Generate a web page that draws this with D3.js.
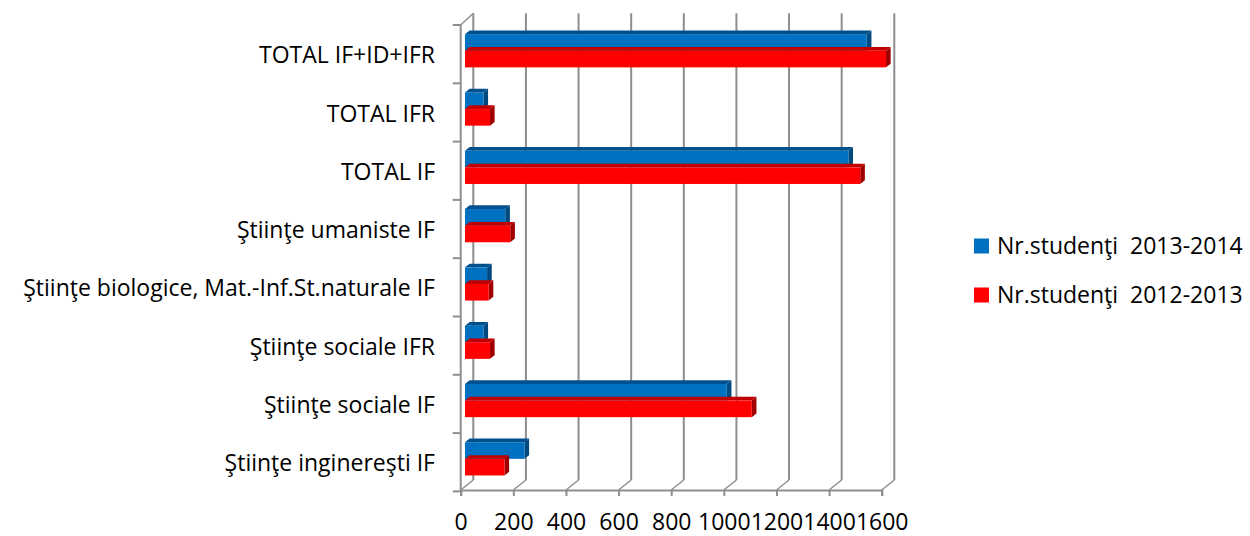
<!DOCTYPE html>
<html><head><meta charset="utf-8">
<script src="https://cdn.jsdelivr.net/npm/d3@7"></script>
<style>body{margin:0;background:#fff}svg{display:block}text{font-family:"Open Sans",sans-serif;fill:#000}</style>
</head><body><svg id="c" width="1250" height="536"></svg>
<script>
const categories = ["TOTAL IF+ID+IFR","TOTAL IFR","TOTAL IF","Ştiinţe umaniste IF","Ştiinţe biologice, Mat.-Inf.St.naturale IF","Ştiinţe sociale IFR","Ştiinţe sociale IF","Ştiinţe inginereşti IF"];
const seriesNames = ["Nr.studenţi  2013-2014","Nr.studenţi  2012-2013"];
const values2013_2014 = [1527, 70, 1457, 153, 84, 70, 995, 226];
const values2012_2013 = [1600, 95, 1502, 172, 90, 95, 1090, 150];
const xTicks = [0,200,400,600,800,1000,1200,1400,1600];

const seriesVals = [values2013_2014, values2012_2013];
const front = ["#0070C0","#FF0000"], top_ = ["#00508C","#C00000"], side = ["#004A80","#A00000"];

const svg = d3.select("#c");
const x = d3.scaleLinear().domain([0,1600]).range([460.7, 881.7]);
const y = d3.scaleBand().domain(categories).range([25, 491.4]).paddingInner(0.43).paddingOuter(0.215);
const ys = d3.scaleBand().domain([0,1]).range([0, y.bandwidth()]);
const D = [12.6, -10];           // full depth vector
const d0 = 0.34, d1 = 0.71;      // bar depth range
const gridCol = "#8E8E8E";

const g = svg.append("g");
xTicks.forEach(t => {
  const xf = x(t);
  g.append("line").attr("x1", xf + D[0]).attr("x2", xf + D[0]).attr("y1", 25 + D[1] - 1.7).attr("y2", 490 + D[1])
    .attr("stroke", gridCol).attr("stroke-width", 2);
  g.append("line").attr("x1", xf).attr("x2", xf + D[0]).attr("y1", 490).attr("y2", 490 + D[1])
    .attr("stroke", gridCol).attr("stroke-width", 1.5);
});
g.append("line").attr("x1", x(0)).attr("x2", x(0)).attr("y1", 25).attr("y2", 490).attr("stroke", gridCol).attr("stroke-width", 2);
g.append("line").attr("x1", x(0)).attr("x2", x(0) + D[0]).attr("y1", 25).attr("y2", 25 + D[1] - 1.7).attr("stroke", gridCol).attr("stroke-width", 1.5);
const step = y.step();
d3.range(categories.length + 1).forEach(i => {
  const yy = 25 + step * i;
  g.append("line").attr("x1", x(0) - 8).attr("x2", x(0)).attr("y1", yy).attr("y2", yy).attr("stroke", gridCol).attr("stroke-width", 2);
});
const xa = svg.append("g").attr("transform", "translate(0,490)")
  .call(d3.axisBottom(x).tickValues(xTicks).tickFormat(d3.format("d")).tickSize(6).tickPadding(18));
xa.select(".domain").attr("stroke", gridCol).attr("stroke-width", 2);
xa.selectAll(".tick line").attr("stroke", gridCol).attr("stroke-width", 2);
xa.selectAll(".tick text").attr("font-size", 23).attr("font-family", "Open Sans").attr("fill", "#000").attr("dy", "0.71em");

const bars = svg.append("g");
categories.forEach((c, i) => {
  [0,1].forEach(s => {
    const v = seriesVals[s][i];
    const fx0 = x(0) + d0 * D[0], fx1 = x(v) + d0 * D[0];
    const fy0 = y(c) + ys(s) + d0 * D[1], fy1 = fy0 + ys.bandwidth();
    const dx = (d1 - d0) * D[0], dy = (d1 - d0) * D[1];
    bars.append("path").attr("d", `M${fx0},${fy0}L${fx0+dx},${fy0+dy}L${fx1+dx},${fy0+dy}L${fx1},${fy0}Z`).attr("fill", top_[s]);
    bars.append("path").attr("d", `M${fx1},${fy0}L${fx1+dx},${fy0+dy}L${fx1+dx},${fy1+dy}L${fx1},${fy1}Z`).attr("fill", side[s]);
    bars.append("rect").attr("x", fx0).attr("y", fy0).attr("width", fx1 - fx0).attr("height", fy1 - fy0).attr("fill", front[s]);
  });
});

svg.append("g").selectAll("text").data(categories).join("text")
  .attr("x", 435).attr("y", d => y(d) + y.bandwidth() / 2 + 1).attr("dy", "0.35em")
  .attr("text-anchor", "end").attr("font-size", 23).text(d => d);

const lg = svg.append("g");
seriesNames.forEach((n, i) => {
  const yy = 246 + i * 49;
  lg.append("rect").attr("x", 974).attr("y", yy - 7.5).attr("width", 15).attr("height", 15).attr("fill", front[i]);
  lg.append("text").attr("x", 997).attr("y", yy).attr("dy", "0.35em").attr("font-size", 23)
    .style("white-space", "pre").text(n);
});
</script></body></html>
